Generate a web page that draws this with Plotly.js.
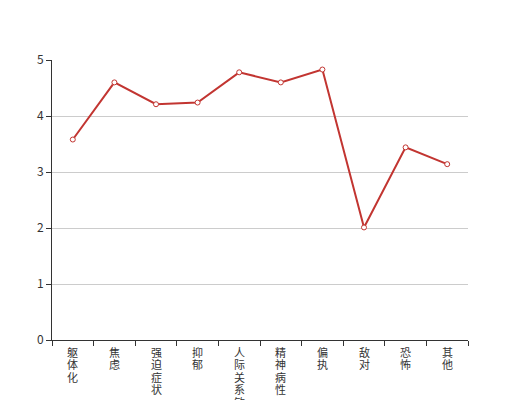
<!DOCTYPE html>
<html><head><meta charset="utf-8">
<script src="https://cdn.plot.ly/plotly-3.0.1.min.js"></script>
<style>html,body{margin:0;padding:0;background:#fff}#c{width:520px;height:400px}</style>
</head><body><div id="c"></div>
<script>
const categories = ["躯体化","焦虑","强迫症状","抑郁","人际关系敏感","精神病性","偏执","敌对","恐怖","其他"];
const values = [3.58, 4.60, 4.21, 4.24, 4.78, 4.60, 4.83, 2.01, 3.44, 3.14];
const yTicks = [0,1,2,3,4,5];

// vertical (stacked) category labels, one character per line
const labelAnnotations = [];
categories.forEach(cat => {
  cat.split("").forEach((ch, j) => {
    labelAnnotations.push({
      x: cat, xref: "x", y: 0, yref: "paper",
      text: ch, showarrow: false, xanchor: "center", yanchor: "top",
      yshift: -3 - 12.4 * j, borderpad: 0,
      font: {family: "Noto Sans CJK SC, sans-serif", size: 11, color: "#333"}
    });
  });
});

Plotly.newPlot("c", [{
  type: "scatter", mode: "lines+markers",
  x: categories, y: values,
  line: {color: "#c23531", width: 2},
  marker: {symbol: "circle", size: 5, color: "#ffffff", line: {color: "#c23531", width: 1}},
  hoverinfo: "none"
}], {
  width: 520, height: 400,
  margin: {l: 52, r: 52, t: 60, b: 60},
  paper_bgcolor: "#fff", plot_bgcolor: "#fff",
  showlegend: false,
  font: {family: "Noto Sans CJK SC, sans-serif", size: 12, color: "#333"},
  annotations: labelAnnotations,
  xaxis: {
    type: "category", tickvals: categories, showticklabels: false,
    range: [-0.5, categories.length - 0.5], autorange: false,
    tickson: "boundaries", ticks: "outside", ticklen: 5, tickcolor: "#333",
    showline: true, linecolor: "#333", linewidth: 1,
    showgrid: false, zeroline: false, fixedrange: true, automargin: false
  },
  yaxis: {
    range: [0, 5], tickvals: yTicks, ticks: "outside", ticklen: 5, tickcolor: "#333",
    showline: true, linecolor: "#333", linewidth: 1,
    showgrid: true, gridcolor: "#ccc", gridwidth: 1, zeroline: false,
    tickfont: {size: 12, color: "#333"}, fixedrange: true, automargin: false
  }
}, {displayModeBar: false, staticPlot: true});
</script></body></html>
